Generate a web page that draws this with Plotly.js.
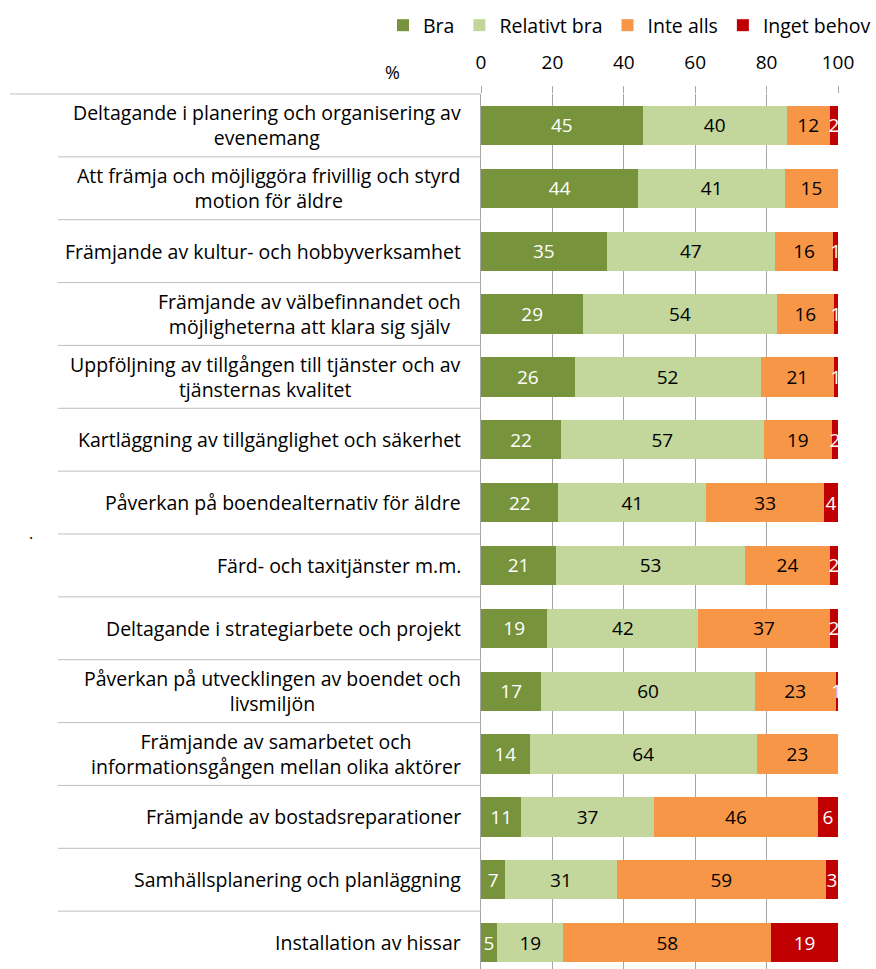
<!DOCTYPE html>
<html>
<head>
<meta charset="utf-8">
<script src="https://cdn.plot.ly/plotly-3.0.1.min.js"></script>
<style>html,body{margin:0;padding:0;background:#fff;}</style>
</head>
<body>
<div id="chart" style="width:876px;height:969px;"></div>
<script>
const categories = [
  "Deltagande i planering och organisering av<br>evenemang",
  "Att främja och möjliggöra frivillig och styrd<br>motion för äldre",
  "Främjande av kultur- och hobbyverksamhet",
  "Främjande av välbefinnandet och<br>möjligheterna att klara sig själv",
  "Uppföljning av tillgången till tjänster och av<br>tjänsternas kvalitet",
  "Kartläggning av tillgänglighet och säkerhet",
  "Påverkan på boendealternativ för äldre",
  "Färd- och taxitjänster m.m.",
  "Deltagande i strategiarbete och projekt",
  "Påverkan på utvecklingen av boendet och<br>livsmiljön",
  "Främjande av samarbetet och<br>informationsgången mellan olika aktörer",
  "Främjande av bostadsreparationer",
  "Samhällsplanering och planläggning",
  "Installation av hissar"
];
const seriesNames = ["Bra", "Relativt bra", "Inte alls", "Inget behov"];
const bra        = [45.3, 44.1, 35.2, 28.7, 26.2, 22.4, 21.7, 21.0, 18.6, 16.9, 13.6, 11.3, 6.8, 4.5];
const relBra     = [40.3, 41.0, 47.1, 54.1, 52.1, 56.8, 41.4, 53.0, 42.3, 59.8, 63.7, 37.1, 31.2, 18.6];
const inteAlls   = [12.1, 14.9, 16.4, 16.1, 20.6, 19.1, 33.0, 23.7, 36.8, 22.6, 22.7, 46.0, 58.6, 58.2];
const ingetBehov = [2.3, 0, 1.3, 1.1, 1.1, 1.7, 3.9, 2.3, 2.3, 0.7, 0, 5.6, 3.4, 18.7];
const xTicks = [0, 20, 40, 60, 80, 100];

const FONT = "'Open Sans', 'Noto Sans', sans-serif";
const colors = ["#77933C", "#C3D69B", "#F79646", "#C00000"];
const textColors = ["#FFFFFF", "#000000", "#000000", "#FFFFFF"];
const values = [bra, relBra, inteAlls, ingetBehov];

const traces = values.map((v, i) => ({
  type: "bar",
  orientation: "h",
  name: seriesNames[i],
  y: categories,
  x: v,
  marker: {color: colors[i]},
  texttemplate: "%{x:.0f}",
  textposition: "inside",
  insidetextanchor: "middle",
  textangle: 0,
  insidetextfont: {family: FONT, size: 19, color: textColors[i]},
  hoverinfo: "skip"
}));

const W = 876, H = 969;
const mL = 481, mR = 38, mT = 94, mB = 0;
const plotW = W - mL - mR, plotH = H - mT - mB;
const yTop = -0.5, yBottom = 13.42;
function paperX(px) { return (px - mL) / plotW; }
function paperY(py) { return (H - mB - py) / plotH; }
function catToPaper(v) { return (yBottom - v) / (yBottom - yTop); }

const shapes = [];
for (let k = 0; k < categories.length; k++) {
  const yy = catToPaper(k - 0.5);
  shapes.push({
    type: "line", xref: "paper", yref: "paper",
    x0: k === 0 ? paperX(10) : paperX(58), x1: 0,
    y0: yy, y1: yy,
    line: {color: "#BFBFBF", width: 1}
  });
}

const annotations = categories.map(c => ({
  xref: "paper", yref: "y", x: 0, y: c, xanchor: "right", yanchor: "middle",
  xshift: -18, text: c, align: "center", showarrow: false,
  font: {family: FONT, size: 19.5, color: "#000"}
}));
annotations.push({xref: "paper", yref: "paper", x: paperX(392), y: paperY(72),
  text: "%", showarrow: false, xanchor: "center", yanchor: "middle",
  font: {family: FONT, size: 18, color: "#000"}});
annotations.push({xref: "paper", yref: "paper", x: paperX(31), y: paperY(533),
  text: ".", showarrow: false, xanchor: "center", yanchor: "middle",
  font: {family: FONT, size: 16, color: "#000"}});

const layout = {
  width: W, height: H,
  margin: {l: mL, r: mR, t: mT, b: mB, pad: 0},
  barmode: "stack",
  bargap: 0.375,
  paper_bgcolor: "#fff", plot_bgcolor: "#fff",
  showlegend: true,
  legend: {
    orientation: "h", x: paperX(409), xanchor: "left", y: paperY(6), yanchor: "top",
    font: {family: FONT, size: 19.5, color: "#000"},
    traceorder: "normal", itemwidth: 30, itemclick: false, tracegroupgap: 0
  },
  uniformtext: {mode: "show", minsize: 19},
  xaxis: {
    side: "top", range: [0, 100], tickvals: xTicks, ticktext: xTicks.map(String),
    showgrid: true, gridcolor: "#A6A6A6", gridwidth: 1,
    ticks: "outside", ticklen: 7, tickcolor: "#A6A6A6", tickwidth: 1,
    ticklabelstandoff: 9,
    showline: false, zeroline: false, fixedrange: true,
    tickfont: {family: FONT, size: 19, color: "#000"}
  },
  yaxis: {
    type: "category", range: [yBottom, yTop], showticklabels: false,
    showgrid: false, zeroline: false, showline: true, linecolor: "#A6A6A6", linewidth: 1,
    ticks: "", fixedrange: true
  },
  shapes: shapes,
  annotations: annotations,
  font: {family: FONT, color: "#000"}
};

Plotly.newPlot("chart", traces, layout, {displayModeBar: false, staticPlot: true});
</script>
</body>
</html>
